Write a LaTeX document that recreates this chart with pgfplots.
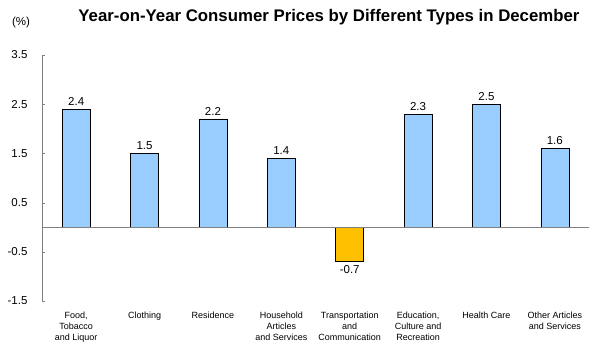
\documentclass[border=0pt]{standalone}
\usepackage{pgfplots}
\pgfplotsset{compat=1.18}
\usepackage{fontspec}
\setmainfont{Liberation Sans}
\definecolor{barblue}{HTML}{99CCFF}
\definecolor{barorange}{HTML}{FFC000}
\begin{document}
\begin{tikzpicture}[x=1bp,y=1bp]
\useasboundingbox (0,0) rectangle (591,350);
\node[font=\fontsize{16.8bp}{18bp}\selectfont\bfseries] at (329,333) {Year-on-Year Consumer Prices by Different Types in December};
\node[font=\fontsize{11.5bp}{13bp}\selectfont] at (21,327) {(\%)};
\begin{axis}[
  at={(42bp,49bp)}, anchor=south west,
  scale only axis, width=547bp, height=246bp,
  ymin=-1.5, ymax=3.5,
  ytick={-1.5,-0.5,0.5,1.5,2.5,3.5},
  yticklabels={-1.5,-0.5,0.5,1.5,2.5,3.5},
  xmin=-0.5, xmax=7.5,
  xtick={0,1,2,3,4,5,6,7},
  xticklabels={{Food,\\Tobacco\\and Liquor},{Clothing},{Residence},{Household\\Articles\\and Services},{Transportation\\and\\Communication},{Education,\\Culture and\\Recreation},{Health Care},{Other Articles\\and Services}},
  xticklabel style={align=center, font=\fontsize{9bp}{11bp}\selectfont, anchor=north, yshift=-4bp},
  x tick style={draw=none},
  axis lines*=left,
  x axis line style={draw=none},
  y axis line style={gray, -},
  ytick style={gray},
  tick align=inside,
  major tick length=3bp,
  yticklabel style={font=\fontsize{11.5bp}{13bp}\selectfont, xshift=-11bp},
  ybar, bar width=28bp, bar shift=0pt,
  nodes near coords,
  nodes near coords align={vertical},
  every node near coord/.append style={font=\fontsize{11.5bp}{13bp}\selectfont, /pgf/number format/fixed, /pgf/number format/fixed zerofill, /pgf/number format/precision=1, /pgf/number format/assume math mode=true},
  clip=false,
]
\addplot[fill=barblue, draw=black, line width=0.5pt] coordinates {(0,2.4) (1,1.5) (2,2.2) (3,1.4) (5,2.3) (6,2.5) (7,1.6)};
\addplot[fill=barorange, draw=black, line width=0.5pt] coordinates {(4,-0.7)};
\draw[gray, line width=0.8pt] (axis cs:-0.5,0) -- (axis cs:7.5,0);
\end{axis}
\end{tikzpicture}
\end{document}
